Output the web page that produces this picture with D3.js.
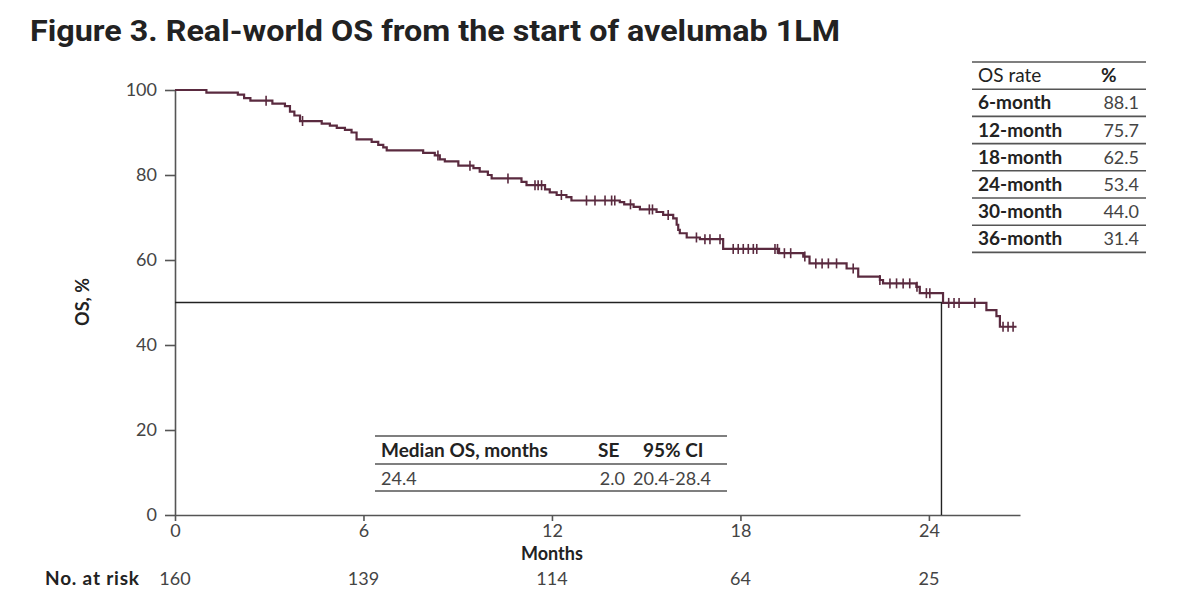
<!DOCTYPE html>
<html>
<head>
<meta charset="utf-8">
<title>Real-world OS from the start of avelumab 1LM</title>
<script src="https://d3js.org/d3.v7.min.js"></script>
<style>
  body { margin: 0; background: #fff; }
  text { font-family: Lato, "Noto Sans", sans-serif; }
</style>
</head>
<body>
<div id="chart"></div>
<script>
// step drops of the KM curve (months, OS %)
const eventMonths = [0, 1.0, 2.0, 2.2, 2.4, 3.1, 3.5, 3.66, 3.8, 3.98, 4.67, 4.93, 5.15, 5.41, 5.62, 5.78,
  6.26, 6.47, 6.63, 6.74, 7.9, 8.27, 8.43, 8.59, 9.02, 9.5, 9.7, 9.96, 10.08, 11.03, 11.19, 11.78, 11.93,
  12.15, 12.46, 12.62, 14.16, 14.3, 14.6, 14.8, 15.33, 15.54, 15.86, 15.97, 16.02, 16.07, 16.29, 16.71,
  17.45, 19.23, 20.0, 20.2, 21.38, 21.75, 22.44, 22.54, 23.6, 23.71, 24.45, 25.83, 26.15, 26.26];
const osValues = [100, 99.4, 98.9, 98.1, 97.5, 96.8, 96.2, 94.9, 94.0, 92.7, 92.1, 91.6, 91.1, 90.6, 90.0, 88.4,
  87.8, 87.1, 86.5, 85.8, 85.2, 84.6, 83.7, 83.2, 82.2, 81.6, 80.8, 80.0, 79.2, 78.4, 77.6, 76.6, 75.9,
  75.3, 74.8, 74.0, 73.6, 73.1, 72.5, 71.9, 71.3, 70.6, 69.8, 68.3, 67.1, 66.3, 65.3, 64.9,
  62.6, 61.6, 60.8, 59.2, 58.0, 56.1, 55.3, 54.5, 53.7, 52.2, 49.9, 48.2, 46.8, 44.3];
const lastFollowUp = 26.79;
const censorMonths = [2.9, 4.06, 8.37, 9.39, 10.6, 11.46, 11.56, 11.67, 12.3, 13.1, 13.37, 13.69, 13.9, 14.0,
  14.5, 15.1, 15.2, 15.7, 16.6, 16.87, 17.03, 17.35, 17.77, 17.93, 18.09, 18.25, 18.41, 18.52, 19.1, 19.18,
  19.4, 19.6, 20.05, 20.4, 20.6, 20.8, 21.06, 21.59, 22.44, 22.76, 22.97, 23.18, 23.39, 23.62, 23.92, 24.03,
  24.63, 24.8, 24.96, 25.46, 26.36, 26.52, 26.68];

const medianOS = 24.4;
const xTicks = [0, 6, 12, 18, 24];
const yTicks = [0, 20, 40, 60, 80, 100];
const atRisk = [160, 139, 114, 64, 25];

const rateLabels = ["6-month", "12-month", "18-month", "24-month", "30-month", "36-month"];
const rateValues = ["88.1", "75.7", "62.5", "53.4", "44.0", "31.4"];
const medianHeader = ["Median OS, months", "SE", "95% CI"];
const medianRow = ["24.4", "2.0", "20.4-28.4"];

const W = 1200, H = 614;
const svg = d3.select("#chart").append("svg").attr("width", W).attr("height", H);

const x = d3.scaleLinear().domain([0, 26.9]).range([175, 1020]);
const y = d3.scaleLinear().domain([0, 100]).range([515, 90]);

// title
svg.append("text")
  .attr("x", 30).attr("y", 41)
  .attr("font-weight", "bold")
  .attr("font-size", 30)
  .attr("fill", "#222")
  .attr("textLength", 810).attr("lengthAdjust", "spacingAndGlyphs")
  .style("font-family", "Roboto, sans-serif")
  .text("Figure 3. Real-world OS from the start of avelumab 1LM");

// axes
const yAxis = svg.append("g")
  .attr("transform", `translate(${x(0)},0)`)
  .call(d3.axisLeft(y).tickValues(yTicks).tickSize(10).tickSizeOuter(0).tickPadding(8));
const xAxis = svg.append("g")
  .attr("transform", `translate(0,${y(0)})`)
  .call(d3.axisBottom(x).tickValues(xTicks).tickSize(6).tickSizeOuter(0).tickPadding(3));

[yAxis, xAxis].forEach(g => {
  g.selectAll("path, line").attr("stroke", "#555").attr("stroke-width", 1.6);
  g.selectAll("text").attr("font-size", 18).attr("fill", "#444")
    .style("font-family", "Lato, sans-serif");
});

svg.append("text")
  .attr("transform", `translate(89,302) rotate(-90)`)
  .attr("text-anchor", "middle")
  .attr("font-weight", "bold").attr("font-size", 18).attr("fill", "#222")
  .text("OS, %");

svg.append("text")
  .attr("x", x(12)).attr("y", 560)
  .attr("text-anchor", "middle")
  .attr("font-weight", "bold").attr("font-size", 18).attr("fill", "#222")
  .text("Months");

// number at risk
svg.append("text")
  .attr("x", 45).attr("y", 585)
  .attr("font-weight", "bold").attr("font-size", 19).attr("fill", "#222")
  .attr("textLength", 94).attr("lengthAdjust", "spacing")
  .text("No. at risk");
svg.selectAll(".risk").data(atRisk).join("text")
  .attr("class", "risk")
  .attr("x", (d, i) => x(xTicks[i])).attr("y", 585)
  .attr("text-anchor", "middle")
  .attr("font-size", 18).attr("fill", "#444")
  .text(d => d);

// median reference lines
svg.append("path")
  .attr("d", `M${x(0)},${y(50)}H${x(medianOS)}V${y(0)}`)
  .attr("fill", "none").attr("stroke", "#222").attr("stroke-width", 1.4);

// KM curve
const steps = eventMonths.map((t, i) => [t, osValues[i]]);
steps.push([lastFollowUp, osValues[osValues.length - 1]]);
const line = d3.line().x(d => x(d[0])).y(d => y(d[1])).curve(d3.curveStepAfter);
const curveColor = "#5a2a3f";
svg.append("path")
  .datum(steps)
  .attr("d", line)
  .attr("fill", "none").attr("stroke", curveColor).attr("stroke-width", 2.2);

const survAt = t => osValues[Math.max(0, d3.bisectRight(eventMonths, t) - 1)];
svg.selectAll(".cens").data(censorMonths).join("line")
  .attr("class", "cens")
  .attr("x1", d => x(d)).attr("x2", d => x(d))
  .attr("y1", d => y(survAt(d)) - 5).attr("y2", d => y(survAt(d)) + 5)
  .attr("stroke", curveColor).attr("stroke-width", 1.6);

// OS rate table
const t1x0 = 972, t1x1 = 1146, t1y0 = 62, rowH = 27.2;
const t1 = svg.append("g");
d3.range(rateLabels.length + 2).forEach(i => {
  t1.append("line").attr("x1", t1x0).attr("x2", t1x1)
    .attr("y1", t1y0 + i * rowH).attr("y2", t1y0 + i * rowH)
    .attr("stroke", "#555").attr("stroke-width", 1.6);
});
t1.append("text").attr("x", 978).attr("y", t1y0 + rowH - 7)
  .attr("font-size", 19).attr("fill", "#222").text("OS rate");
t1.append("text").attr("x", 1101).attr("y", t1y0 + rowH - 7)
  .attr("font-size", 19).attr("font-weight", "bold").attr("fill", "#222").text("%");
rateLabels.forEach((lab, i) => {
  const by = t1y0 + (i + 2) * rowH - 7;
  t1.append("text").attr("x", 978).attr("y", by)
    .attr("font-size", 19).attr("font-weight", "bold").attr("fill", "#222").text(lab);
  t1.append("text").attr("x", 1139).attr("y", by).attr("text-anchor", "end")
    .attr("font-size", 18).attr("fill", "#444").text(rateValues[i]);
});

// median table
const t2 = svg.append("g");
[436, 464, 491].forEach(ly => {
  t2.append("line").attr("x1", 375).attr("x2", 727)
    .attr("y1", ly).attr("y2", ly)
    .attr("stroke", "#555").attr("stroke-width", 1.6);
});
t2.append("text").attr("x", 381).attr("y", 457).attr("font-size", 19)
  .attr("font-weight", "bold").attr("fill", "#222").text(medianHeader[0]);
t2.append("text").attr("x", 598).attr("y", 457).attr("font-size", 19)
  .attr("font-weight", "bold").attr("fill", "#222").text(medianHeader[1]);
t2.append("text").attr("x", 643).attr("y", 457).attr("font-size", 19)
  .attr("font-weight", "bold").attr("fill", "#222").text(medianHeader[2]);
t2.append("text").attr("x", 381).attr("y", 485).attr("font-size", 18)
  .attr("fill", "#444").text(medianRow[0]);
t2.append("text").attr("x", 625).attr("y", 485).attr("font-size", 18)
  .attr("text-anchor", "end").attr("fill", "#444").text(medianRow[1]);
t2.append("text").attr("x", 633).attr("y", 485).attr("font-size", 18)
  .attr("fill", "#444").text(medianRow[2]);
</script>
</body>
</html>
